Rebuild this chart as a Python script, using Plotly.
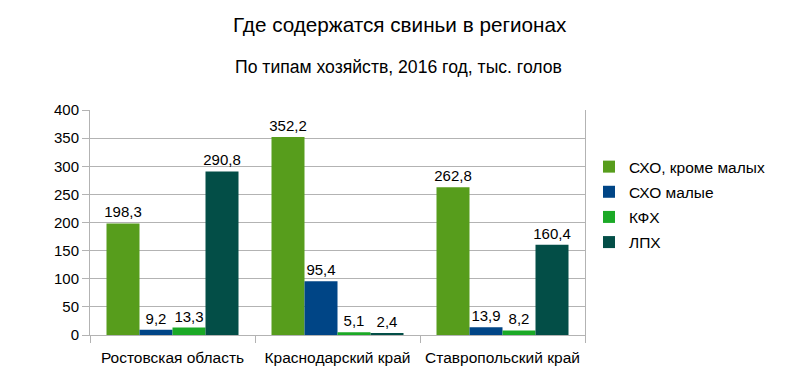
import plotly.graph_objects as go

regions = ["Ростовская область", "Краснодарский край", "Ставропольский край"]
series_names = ["СХО, кроме малых", "СХО малые", "КФХ", "ЛПХ"]
sho_large = [198.3, 352.2, 262.8]
sho_small = [9.2, 95.4, 13.9]
kfh = [13.3, 5.1, 8.2]
lph = [290.8, 2.4, 160.4]
series_values = [sho_large, sho_small, kfh, lph]
colors = ["#579d1c", "#004586", "#1ba926", "#034e47"]
y_ticks = [0, 50, 100, 150, 200, 250, 300, 350, 400]

FONT = "Liberation Sans, Arial, sans-serif"

fig = go.Figure()
for name, vals, col in zip(series_names, series_values, colors):
    fig.add_trace(go.Bar(
        x=regions, y=vals, name=name, legendgroup=name,
        marker=dict(color=col, line=dict(width=0)),
        texttemplate="%{y:.1f}", textposition="outside", constraintext="none",
        textfont=dict(family=FONT, size=15, color="#000000"),
        cliponaxis=False,
    ))

fig.update_layout(
    width=800, height=388,
    paper_bgcolor="white", plot_bgcolor="white",
    separators=", ",
    barmode="group", bargap=0.2, bargroupgap=0,
    margin=dict(l=90, r=215, t=110, b=53, autoexpand=False),
    font=dict(family=FONT, size=15, color="#000000"),
    showlegend=True,
    legend=dict(
        x=1.0 + 4 / 495, xanchor="left", y=0.822, yanchor="top",
        font=dict(family=FONT, size=15.5, color="#000000"),
        tracegroupgap=2, itemwidth=30,
        bgcolor="rgba(0,0,0,0)",
    ),
    annotations=[
        dict(text="Где содержатся свиньи в регионах", xref="paper", yref="paper",
             x=(400 - 90) / 495, y=1 + (110 - 24.5) / 225, xanchor="center", yanchor="middle",
             showarrow=False, font=dict(family=FONT, size=20.7, color="#000000")),
        dict(text="По типам хозяйств, 2016 год, тыс. голов", xref="paper", yref="paper",
             x=(398 - 90) / 495, y=1 + (110 - 66.5) / 225, xanchor="center", yanchor="middle",
             showarrow=False, font=dict(family=FONT, size=17.6, color="#000000")),
    ],
)

fig.update_yaxes(
    range=[0, 400], tickvals=y_ticks, ticktext=[str(v) for v in y_ticks],
    showgrid=True, gridcolor="#b3b3b3", gridwidth=1,
    showline=True, linecolor="#b3b3b3", linewidth=1, mirror=True,
    ticks="outside", ticklen=7, tickcolor="#b3b3b3",
    tickfont=dict(family=FONT, size=15, color="#000000"),
    zeroline=False, fixedrange=True,
)
fig.update_xaxes(
    showline=True, linecolor="#b3b3b3", linewidth=1,
    ticks="outside", ticklen=7, tickcolor="#b3b3b3", tickson="boundaries",
    tickangle=0, ticklabelstandoff=8,
    tickfont=dict(family=FONT, size=15.5, color="#000000"),
    showgrid=False, fixedrange=True,
)

fig.write_html("out.html", config={"displayModeBar": False},
               post_script="document.body.style.margin='0';document.body.style.overflow='hidden';")
